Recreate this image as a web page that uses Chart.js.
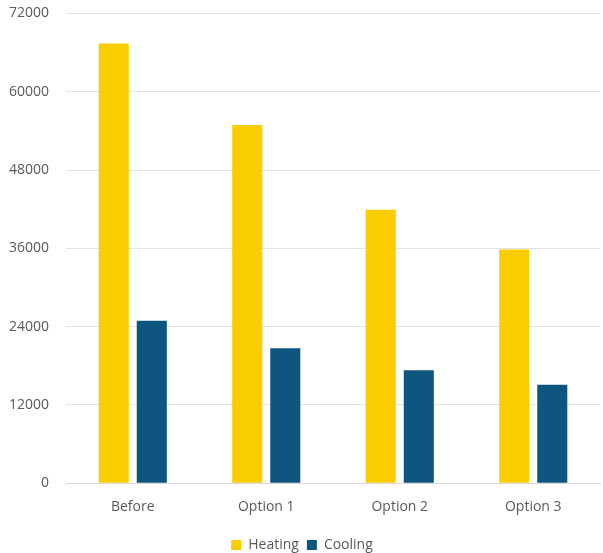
<!DOCTYPE html>
<html>
<head>
<meta charset="utf-8">
<script src="https://cdn.jsdelivr.net/npm/chart.js@4"></script>
<style>
    html, body { margin: 0; padding: 0; background: #fff; }
    #wrap { width: 603px; height: 553px; position: relative; }
</style>
</head>
<body>
<div id="wrap"><canvas id="chart"></canvas></div>
<script>
"use strict";

const categories = ["Before", "Option 1", "Option 2", "Option 3"];
const heating = [67400, 54900, 41900, 35800];
const cooling = [24900, 20700, 17300, 15100];
const yTicks = [0, 12000, 24000, 36000, 48000, 60000, 72000];

const textColor = "#595959";
const fontFamily = "'Open Sans', 'Liberation Sans', sans-serif";

const ctx = document.getElementById("chart").getContext("2d");

new Chart(ctx, {
    type: "bar",
    data: {
        labels: categories,
        datasets: [{
            label: "Heating",
            data: heating,
            backgroundColor: "#F9CD00"
        }, {
            label: "Cooling",
            data: cooling,
            backgroundColor: "#0E5580"
        }]
    },
    options: {
        responsive: true,
        maintainAspectRatio: false,
        animation: false,
        categoryPercentage: 0.57,
        barPercentage: 0.79,
        layout: {padding: {top: -9, right: 3, left: 4, bottom: -9}},
        plugins: {
            legend: {
                position: "bottom",
                labels: {
                    boxWidth: 10,
                    boxHeight: 10,
                    padding: 8,
                    color: textColor,
                    font: {family: fontFamily, size: 14}
                }
            },
            tooltip: {enabled: false}
        },
        scales: {
            x: {
                grid: {display: false, drawTicks: false},
                border: {color: "#d9d9d9"},
                ticks: {
                    color: textColor,
                    padding: 15,
                    font: {family: fontFamily, size: 14}
                }
            },
            y: {
                min: 0,
                max: 72000,
                afterBuildTicks: function (axis) {
                    axis.ticks = yTicks.map(v => ({value: v}));
                },
                grid: {color: "#e3e3e3", tickColor: "rgba(0,0,0,0)", tickLength: 12},
                border: {display: false},
                ticks: {
                    color: textColor,
                    padding: 5,
                    font: {family: fontFamily, size: 14},
                    callback: v => String(v)
                }
            }
        }
    }
});
</script>
</body>
</html>
